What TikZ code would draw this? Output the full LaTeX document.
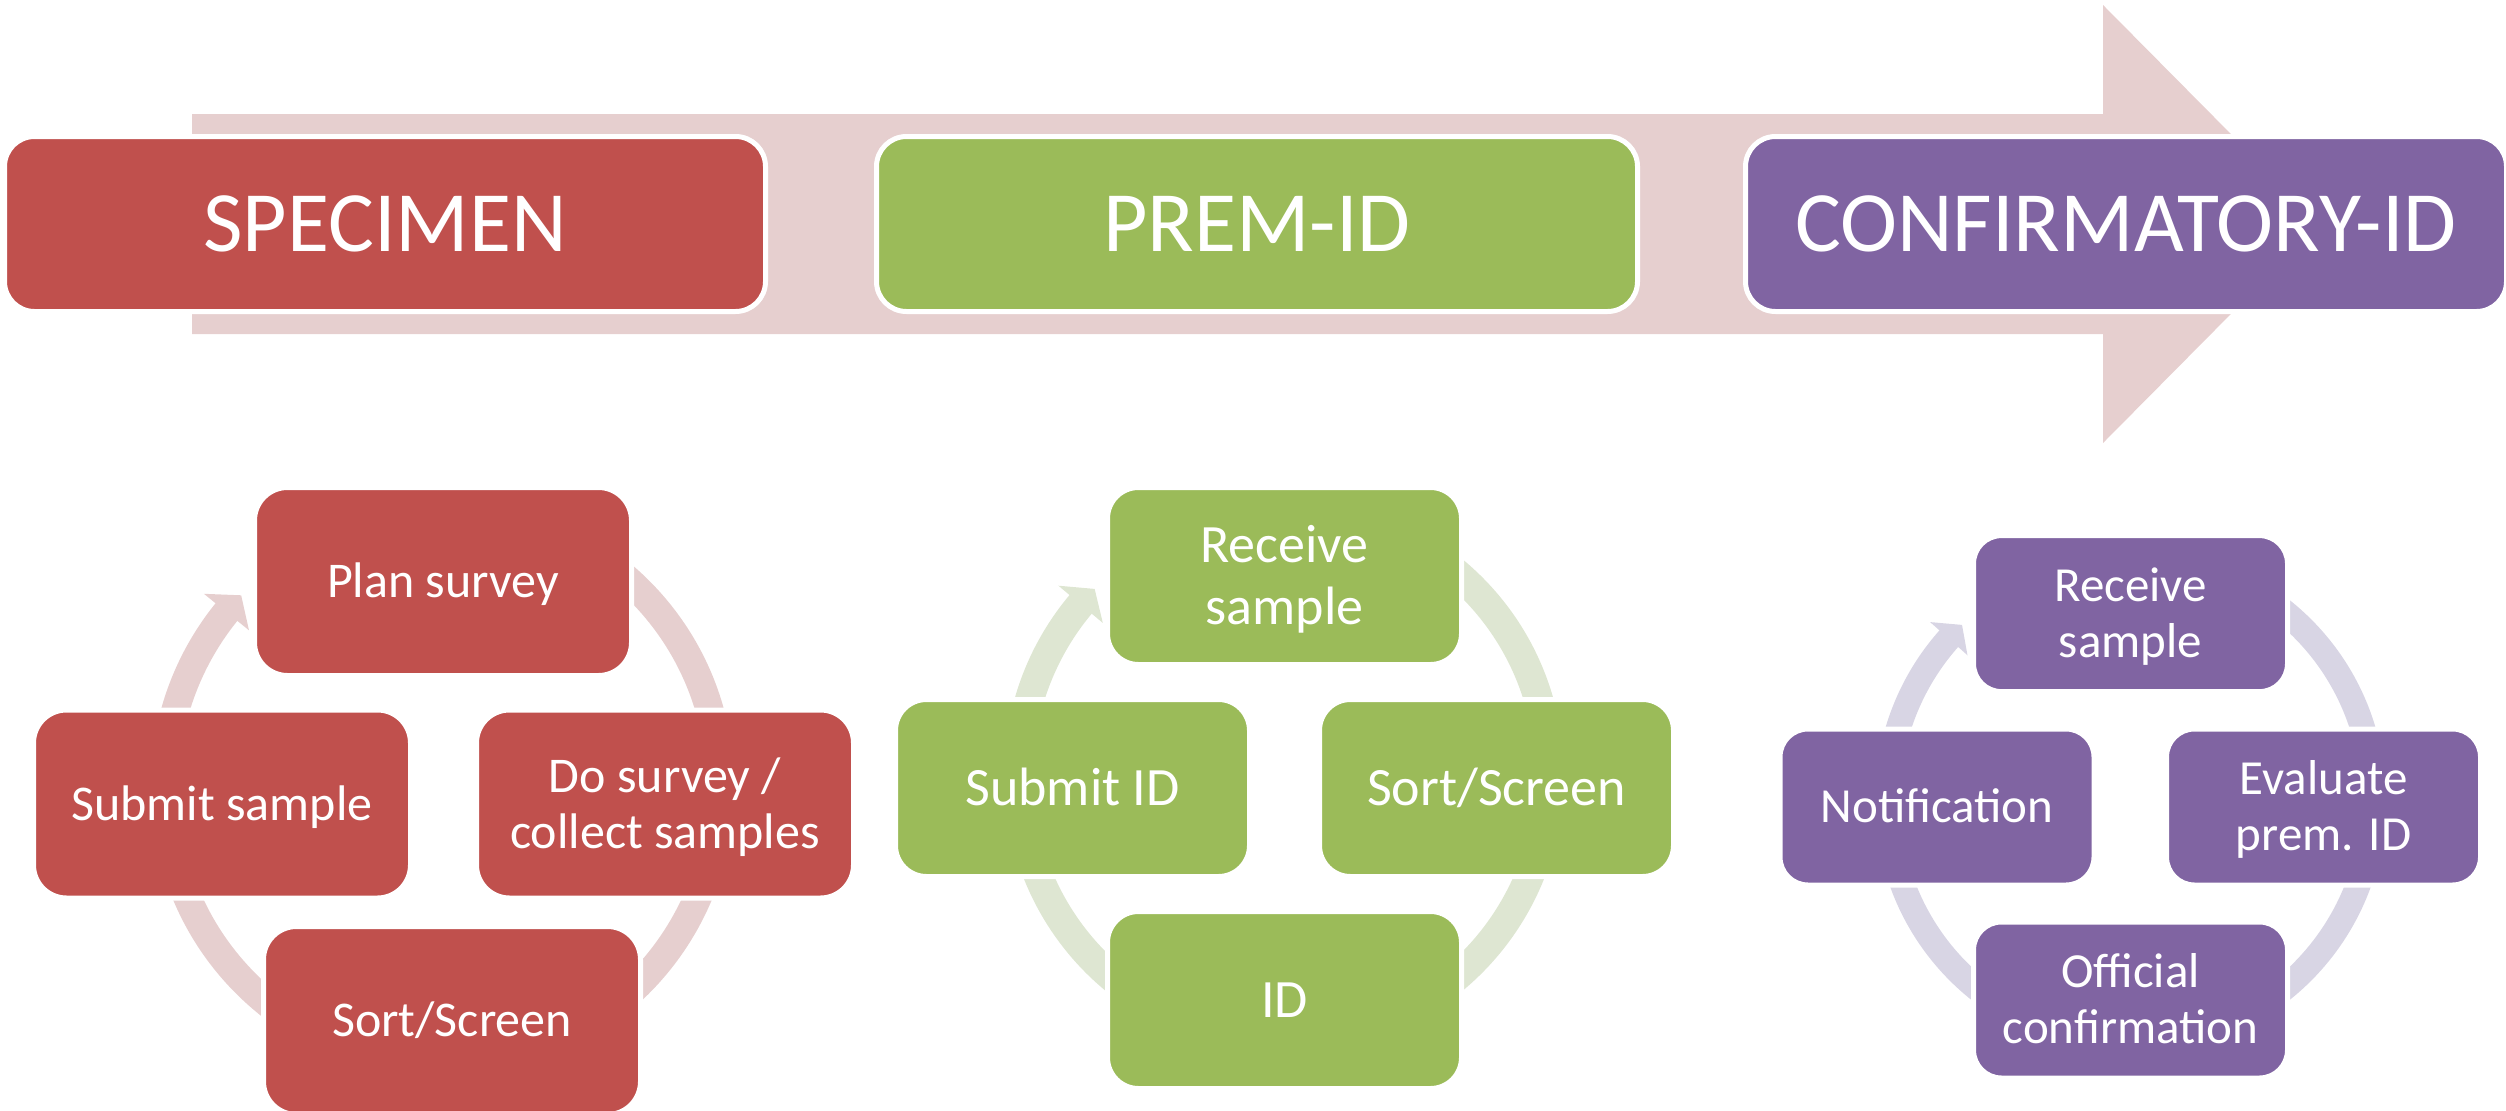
\documentclass[tikz,border=0pt]{standalone}
\usepackage{fontspec}
\setmainfont{Carlito}
\usetikzlibrary{calc}
\definecolor{redbox}{HTML}{C0504D}
\definecolor{greenbox}{HTML}{9BBB59}
\definecolor{purplebox}{HTML}{8064A2}
\definecolor{pinkarrow}{HTML}{E6CFCF}
\definecolor{redring}{HTML}{E6CFCF}
\definecolor{greenring}{HTML}{DEE6D2}
\definecolor{purplering}{HTML}{D8D5E4}
\tikzset{
  titlebox/.style={draw=white, line width=5pt, fill=#1, rounded corners=30pt,
    minimum width=761pt, minimum height=175pt, inner sep=0pt, text=white,
    font=\fontsize{86}{100}\selectfont, text height=55pt, text depth=0pt},
  cboxA/.style={draw=white, line width=5pt, fill=redbox, rounded corners=33pt,
    minimum width=377pt, minimum height=188pt, inner sep=0pt, text=white, align=center,
    font=\fontsize{50}{56}\selectfont, text depth=0pt},
  cboxB/.style={draw=white, line width=5pt, fill=greenbox, rounded corners=31pt,
    minimum width=354pt, minimum height=177pt, inner sep=0pt, text=white, align=center,
    font=\fontsize{54}{61.5}\selectfont, text depth=0pt},
  cboxC/.style={draw=white, line width=5pt, fill=purplebox, rounded corners=28pt,
    minimum width=314pt, minimum height=156pt, inner sep=0pt, text=white, align=center,
    font=\fontsize{49}{55.6}\selectfont, text depth=0pt},
}
\begin{document}
\begin{tikzpicture}[x=1pt,y=-1pt]
\useasboundingbox (0,0) rectangle (2506,1111);
% big process arrow
\fill[pinkarrow] (192,114) -- (2103,114) -- (2103,5) -- (2320,224) -- (2103,443)
  -- (2103,334) -- (192,334) -- cycle;
\node[titlebox=redbox] (spec) at (385,224) {SPECIMEN};
\node[titlebox=greenbox] (prem) at (1257,224) {PREM-ID};
\node[titlebox=purplebox] (conf) at (2126,224) {CONFIRMATORY-ID};

% cycle 1
\coordinate (c1) at (442.5,787);
\draw[redring, line width=28pt] ($(c1)+(-100:278)$) arc[start angle=-100, end angle=219.5, radius=278];
\fill[redring] ($(c1)+(219:307)$) -- ($(c1)+(223.6:278)$) -- ($(c1)+(219:249)$) -- cycle;
\node[cboxA, text height=32pt] (a1) at (443,581.5) {Plan survey};
\node[cboxA, text height=88pt] (a2) at (665,804) {Do survey /\\collect samples};
\node[cboxA, text height=32pt] (a3) at (452,1020.5) {Sort/Screen};
\node[cboxA, text height=32pt] (a4) at (222,804) {Submit sample};

% cycle 2
\coordinate (c2) at (1284,775);
\draw[greenring, line width=29pt] ($(c2)+(-100:265.5)$) arc[start angle=-100, end angle=220.5, radius=265.5];
\fill[greenring] ($(c2)+(220:294.5)$) -- ($(c2)+(224.5:265.5)$) -- ($(c2)+(220:236.5)$) -- cycle;
\node[cboxB, text height=96pt] (b1) at (1284.5,576) {Receive\\sample};
\node[cboxB, text height=34.5pt] (b2) at (1496.5,788) {Sort/Screen};
\node[cboxB, text height=34.5pt] (b3) at (1284.5,1000) {ID};
\node[cboxB, text height=34.5pt] (b4) at (1072.5,788) {Submit ID};

% cycle 3
\coordinate (c3) at (2130.5,800);
\draw[purplering, line width=25pt] ($(c3)+(-100:243)$) arc[start angle=-100, end angle=222, radius=243];
\fill[purplering] ($(c3)+(221.6:268)$) -- ($(c3)+(226.1:243)$) -- ($(c3)+(221.6:218)$) -- cycle;
\node[cboxC, text height=87pt] (p1) at (2130.5,613.6) {Receive\\sample};
\node[cboxC, text height=87pt] (p2) at (2323.5,807) {Evaluate\\prem. ID};
\node[cboxC, text height=87pt] (p3) at (2130.5,1000) {Official\\confirmation};
\node[cboxC, text height=31.4pt] (p4) at (1937,807) {Notification};
\end{tikzpicture}
\end{document}
